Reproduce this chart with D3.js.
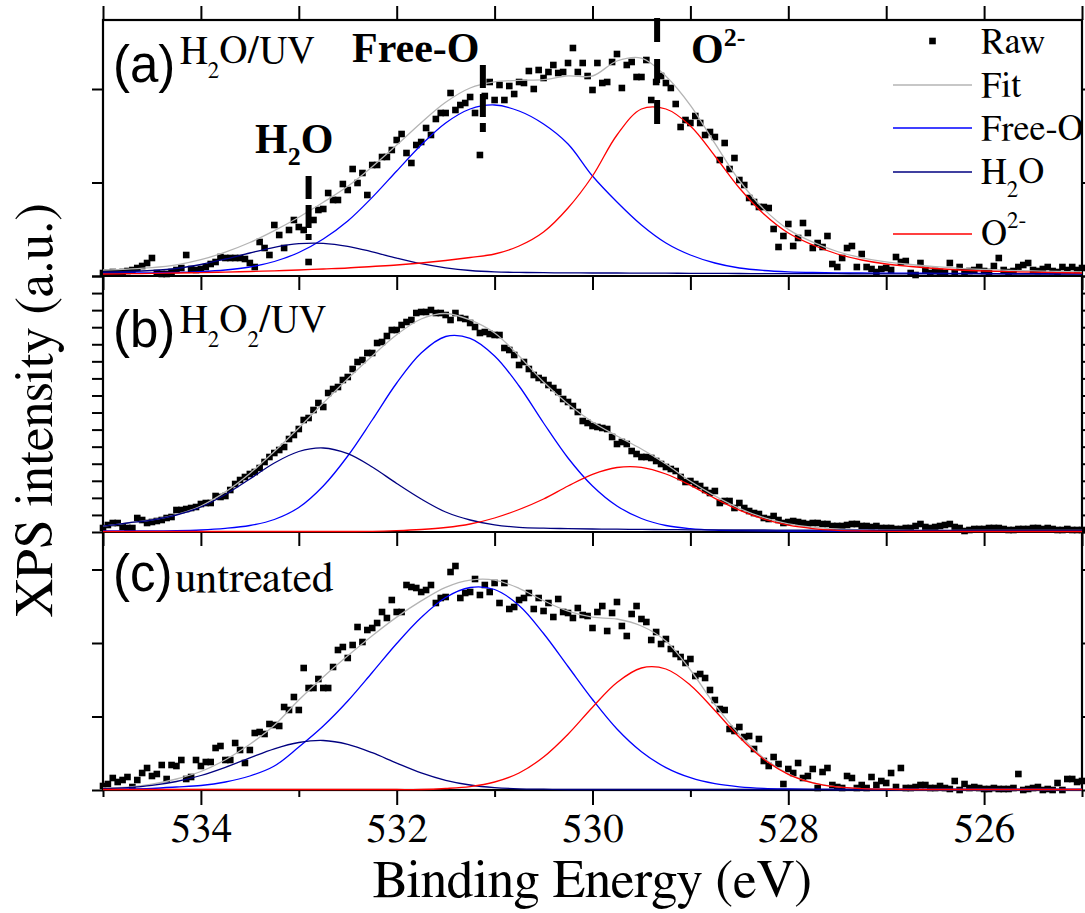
<!DOCTYPE html>
<html>
<head>
<meta charset="utf-8">
<script src="https://cdn.jsdelivr.net/npm/d3@7/dist/d3.min.js"></script>
<style>body { margin: 0; background: #fff; }</style>
</head>
<body>
<svg id="chart" width="1085" height="913"></svg>
<script>
// binding energy of every raw point (eV), same scan for the three samples
const rawEnergy = [
	535,534.95,534.9,534.85,534.8,534.75,534.7,534.65,534.6,534.55,
	534.5,534.45,534.4,534.35,534.3,534.25,534.2,534.15,534.1,534.05,
	534,533.95,533.9,533.85,533.8,533.75,533.7,533.65,533.6,533.55,
	533.5,533.45,533.4,533.35,533.3,533.25,533.2,533.15,533.1,533.05,
	533,532.95,532.9,532.85,532.8,532.75,532.7,532.65,532.6,532.55,
	532.5,532.45,532.4,532.35,532.3,532.25,532.2,532.15,532.1,532.05,
	532,531.95,531.9,531.85,531.8,531.75,531.7,531.65,531.6,531.55,
	531.5,531.45,531.4,531.35,531.3,531.25,531.2,531.15,531.1,531.05,
	531,530.95,530.9,530.85,530.8,530.75,530.7,530.65,530.6,530.55,
	530.5,530.45,530.4,530.35,530.3,530.25,530.2,530.15,530.1,530.05,
	530,529.95,529.9,529.85,529.8,529.75,529.7,529.65,529.6,529.55,
	529.5,529.45,529.4,529.35,529.3,529.25,529.2,529.15,529.1,529.05,
	529,528.95,528.9,528.85,528.8,528.75,528.7,528.65,528.6,528.55,
	528.5,528.45,528.4,528.35,528.3,528.25,528.2,528.15,528.1,528.05,
	528,527.95,527.9,527.85,527.8,527.75,527.7,527.65,527.6,527.55,
	527.5,527.45,527.4,527.35,527.3,527.25,527.2,527.15,527.1,527.05,
	527,526.95,526.9,526.85,526.8,526.75,526.7,526.65,526.6,526.55,
	526.5,526.45,526.4,526.35,526.3,526.25,526.2,526.15,526.1,526.05,
	526,525.95,525.9,525.85,525.8,525.75,525.7,525.65,525.6,525.55,
	525.5,525.45,525.4,525.35,525.3,525.25,525.2,525.15,525.1,525.05,
	525
]

// raw intensity (a.u.), (a) H2O/UV
const rawA = [
	3,3,4,3,4,5,6,8,10,13,18,
	3,2,2,4,6,8,21,7,6,7,
	9,12,14,19,18,18,18,18,17,13,
	9,34,28,21,51,41,28,46,56,49,
	46,14,56,66,67,83,76,76,92,86,
	107,93,103,81,111,111,119,119,126,136,
	142,123,113,131,134,148,141,157,163,163,
	183,166,171,173,179,163,121,180,194,176,
	191,176,190,182,194,193,205,187,206,198,
	204,211,203,204,213,228,204,213,200,186,
	213,193,194,214,222,188,211,214,199,199,
	216,176,194,200,193,188,172,149,156,153,
	160,153,141,144,139,116,133,107,118,96,
	91,78,74,69,69,68,47,29,40,52,
	30,38,53,43,28,33,29,40,12,9,
	18,28,30,9,22,9,7,4,7,8,
	6,19,14,15,3,1,13,6,3,5,
	4,3,13,3,9,4,5,6,9,5,
	4,10,18,6,4,5,9,11,13,6,
	5,7,9,5,4,9,6,9,6,8
]

// (b) H2O2/UV
const rawB = [
	4,7,9,9,5,4,4,14,12,9,10,
	11,12,14,15,22,22,23,24,25,28,
	29,29,36,35,36,42,48,52,55,58,
	60,64,70,75,79,82,85,93,97,103,
	112,114,122,129,125,139,143,145,152,155,
	163,170,172,179,179,189,190,196,202,202,
	207,210,212,219,220,220,222,219,219,217,
	212,219,214,213,209,205,199,200,198,197,
	197,184,182,177,167,170,163,157,154,152,
	147,144,140,133,130,126,120,111,109,106,
	105,104,103,95,88,90,88,81,78,75,
	75,74,71,68,65,63,61,55,50,51,
	48,46,42,39,41,29,31,31,24,29,
	24,21,19,18,14,13,16,12,9,10,
	11,10,9,8,9,9,8,8,6,6,
	6,7,8,8,6,6,5,6,4,4,
	4,3,3,4,4,6,8,5,4,5,
	6,7,8,5,4,1,2,3,3,3,
	4,4,4,3,2,2,3,3,3,4,
	4,3,4,3,2,2,3,2,2,2
]

// (c) untreated
const rawC = [
	4,6,12,8,10,13,3,10,17,22,14,
	16,25,11,25,24,30,11,13,30,24,
	28,28,42,44,30,30,47,40,27,40,
	57,58,56,66,65,64,83,80,93,80,
	122,102,102,111,102,102,123,140,143,132,
	145,163,148,160,162,167,178,172,190,178,
	178,205,203,202,198,200,205,187,192,193,
	218,224,192,197,198,211,195,205,198,207,
	187,207,181,183,190,192,197,181,192,179,
	187,173,191,178,177,172,182,175,174,162,
	178,184,159,177,188,164,154,176,184,171,
	168,150,158,146,151,141,136,133,127,131,
	114,116,112,100,90,81,80,61,59,63,
	53,54,41,51,29,24,33,26,6,21,
	17,27,12,14,21,2,18,22,5,3,
	2,14,12,2,5,2,13,5,9,7,
	17,3,22,2,2,3,5,5,2,2,
	4,2,1,9,0,6,2,3,2,1,
	1,2,1,1,1,2,16,0,1,2,
	3,0,1,0,7,0,11,11,8,9
]

// fitted curves, read every 0.25 eV
const curveEnergy = [
	535,534.75,534.5,534.25,534,533.75,533.5,533.25,533,532.75,
	532.5,532.25,532,531.75,531.5,531.25,531,530.75,530.5,530.25,
	530,529.75,529.5,529.25,529,528.75,528.5,528.25,528,527.75,
	527.5,527.25,527,526.75,526.5,526.25,526,525.75,525.5,525.25,
	525
]

const fitA = [
	6,6.9,8.3,11.1,16.3,23.9,33.5,45.4,58.8,73.7,
	89.7,109.3,130.9,153.3,173.7,188,194.1,195.6,196.3,200.1,
	200,215,217.9,199.8,170.7,132.6,95.5,66.9,46.6,33.8,
	24.5,18.2,14.1,11.5,9.3,7.7,6.6,5.7,5.1,4.6,
	4.2
]
const freeOA = [
	3,3.1,3.2,3.6,4.4,6,9,14.5,23.5,37,
	55,78.6,105,131,153,167,171,165,152,132,
	100,74,51,33,21,13,8,5.5,4.2,3.5,
	3.2,3,2.9,2.8,2.7,2.6,2.5,2.4,2.3,2.2,
	2.2
]
const h2oA = [
	4,4.5,5.5,7.5,11.5,17,23,28.7,32.3,32.7,
	29.7,24.2,17.9,12.3,8.2,5.5,4.1,3.6,3.3,3.1,
	3,3,2.9,2.8,2.7,2.6,2.5,2.4,2.4,2.3,
	2.3,2.2,2.2,2.2,2.1,2.1,2.1,2,2,2,
	2
]
const o2A = [
	2,2.3,2.6,3,3.4,3.9,4.5,5.2,6,7,
	8,9.5,11,13,15.5,18.5,22,30,44,68,
	100,141,167,167,150,120,88,62,43,31,
	22,16,12,9.5,7.5,6,5,4.3,3.8,3.4,
	3
]

const fitB = [
	5.8,9,12.1,17.3,26,40.1,58.5,80.5,104,129,
	153.3,176.1,197.3,213,218.5,212.1,199,176,150,128,
	110,96,83,68,50.7,36.1,23.6,14.4,8.2,4.8,
	3,2.3,1.9,1.7,1.6,1.6,1.6,1.5,1.5,1.5,
	1.5
]
const freeOB = [
	1,1,1.1,1.3,2,3.6,6.5,12.5,24.5,46,
	76,112,149,179,195.5,193.6,176,146,109,74,
	46,26,13.5,6.5,3.3,1.8,1.3,1.1,1,1,
	1,1,1,1,1,1,1,1,1,1,
	1
]
const h2oB = [
	5.8,9,12,17,25,37.5,53,69,80.5,84,
	78.3,65,48.5,33,20,12,7.1,4.7,3.8,3.4,
	3,2.8,2.6,2.4,2.2,2.1,2,2,1.9,1.9,
	1.8,1.8,1.7,1.7,1.6,1.6,1.6,1.5,1.5,1.5,
	1.5
]
const o2B = [
	0.5,0.5,0.5,0.5,0.5,0.5,0.5,0.5,0.5,0.5,
	0.5,0.6,1.3,2.5,4.5,8,14,22.5,33,46,
	57.7,64.5,64.7,58,46.7,33.7,21.8,12.8,6.8,3.4,
	1.7,1,0.7,0.5,0.5,0.5,0.5,0.5,0.5,0.5,
	0.5
]

const fitC = [
	2,2.9,5.8,11,18.5,30.2,45.7,64.7,90,113,
	134.2,154.3,172.9,189.1,202.7,209.9,209.9,201.7,189.3,178.8,
	172.8,171,164,149,120,85.3,55.5,31.9,16.2,7.4,
	3.1,1.4,0.8,0.5,0.5,0.5,0.5,0.5,0.5,0.5,
	0.5
]
const freeOC = [
	0.7,1,1.7,3,4.5,8,14,24,43,64,
	89,117.5,146.5,172.5,192.5,202.5,200.5,184.5,156.5,123.5,
	90.5,61,38.3,22.4,12.3,6.3,3.2,1.6,1,0.7,
	0.5,0.5,0.5,0.5,0.5,0.5,0.5,0.5,0.5,0.5,
	0.5
]
const h2oC = [
	1.3,2.4,4.6,8.5,14.5,22.7,32.2,41.2,47.5,49.5,
	45.7,37.3,26.9,17.1,9.7,5,2.4,1.2,0.8,0.5,
	0.5,0.5,0.5,0.5,0.5,0.5,0.5,0.5,0.5,0.5,
	0.5,0.5,0.5,0.5,0.5,0.5,0.5,0.5,0.5,0.5,
	0.5
]
const o2C = [
	0.5,0.5,0.5,0.5,0.5,0.5,0.5,0.5,0.5,0.5,
	0.5,0.5,0.5,0.5,1.5,3.4,8,17,33,55.8,
	82.8,107.5,122,121,104.8,79.5,52.8,30.8,15.7,7.2,
	3.1,1.4,0.8,0.5,0.5,0.5,0.5,0.5,0.5,0.5,
	0.5
]

// axis ticks
const energyMajor = [534, 532, 530, 528, 526]
const energyMinor = [535, 533, 531, 529, 527, 525]
const energyAll = [535, 534, 533, 532, 531, 530, 529, 528, 527, 526, 525]
const intensityMaxA = 256
const intensityMaxB = 256
const intensityMaxC = 258
const intensityTicksA = [0, 93.5, 187]
const intensityTicksB = [0, 17.07, 34.13, 51.2, 68.27, 85.33, 102.4, 119.47, 136.53, 153.6, 170.67, 187.73, 204.8, 221.87, 238.93, 256]
const intensityTicksC = [0, 73.5, 147, 220.5]

// peak position markers in (a): H2O, Free-O, O2-
const markEnergy = [532.9, 531.12, 529.34]
const markHigh = [100, 211, 258]
const markLow = [36, 144, 151]

// the regular Times clone drops out on this page, FreeSerif renders
const serifFace = "FreeSerif, \"Liberation Serif\", serif"
const boldFace = "\"Liberation Serif\", FreeSerif, serif"
const sansFace = "Arial, \"Liberation Sans\", sans-serif"
const plotLeft = 103
const plotRight = 1082
const svg = d3.select("#chart")
const x = d3.scaleLinear().domain([535, 525]).range([plotLeft, plotRight])

const panels = [
	{ top: 20, bottom: 276, max: intensityMaxA, ticks: intensityTicksA, raw: rawA, fit: fitA, freeO: freeOA, h2o: h2oA, o2: o2A },
	{ top: 276, bottom: 532, max: intensityMaxB, ticks: intensityTicksB, raw: rawB, fit: fitB, freeO: freeOB, h2o: h2oB, o2: o2B },
	{ top: 532, bottom: 790, max: intensityMaxC, ticks: intensityTicksC, raw: rawC, fit: fitC, freeO: freeOC, h2o: h2oC, o2: o2C }
]
panels.forEach(p => {
	p.y = d3.scaleLinear().domain([0, p.max]).range([p.bottom, p.top])
})

const colors = { fit: "#b4b4b4", freeO: "#0000ff", h2o: "#000080", o2: "#ff0000" }

function inkTicks(g) {
	g.select(".domain").remove()
	g.attr("font-family", serifFace).attr("font-size", null)
	g.selectAll("line").attr("stroke", "#000").attr("stroke-width", 2)
}

// frame
svg.append("rect")
	.attr("x", plotLeft).attr("y", 20)
	.attr("width", plotRight - plotLeft).attr("height", 770)
	.attr("fill", "none").attr("stroke", "#000").attr("stroke-width", 2.2)
const joins = [276, 532]
joins.forEach(yy => {
	svg.append("line")
		.attr("x1", plotLeft).attr("x2", plotRight).attr("y1", yy).attr("y2", yy)
		.attr("stroke", "#000").attr("stroke-width", 2.2)
	svg.append("g").attr("transform", `translate(0,${yy})`)
		.call(d3.axisBottom(x).tickValues(energyAll).tickSize(14).tickSizeOuter(0).tickFormat(""))
		.call(inkTicks)
})

svg.append("g").attr("transform", "translate(0,20)")
	.call(d3.axisTop(x).tickValues(energyAll).tickSize(14).tickSizeOuter(0).tickFormat(""))
	.call(inkTicks)

svg.append("g").attr("transform", "translate(0,790)")
	.call(d3.axisBottom(x).tickValues(energyMinor).tickSize(7).tickSizeOuter(0).tickFormat(""))
	.call(inkTicks)
svg.append("g").attr("transform", "translate(0,790)")
	.call(d3.axisBottom(x).tickValues(energyMajor).tickSize(15).tickSizeOuter(0).tickPadding(8).tickFormat(d3.format("d")))
	.call(inkTicks)
	.call(g => g.selectAll("text").attr("font-family", serifFace).attr("font-size", 41).attr("fill", "#000"))

panels.forEach(p => {
	svg.append("g").attr("transform", `translate(${plotLeft},0)`)
		.call(d3.axisLeft(p.y).tickValues(p.ticks).tickSize(11).tickSizeOuter(0).tickFormat(""))
		.call(inkTicks)
	svg.append("g").attr("transform", `translate(${plotRight},0)`)
		.call(d3.axisRight(p.y).tickValues(p.ticks).tickSize(11).tickSizeOuter(0).tickFormat(""))
		.call(inkTicks)
})

// raw points, then fit and components on top
panels.forEach(p => {
	svg.append("g")
		.selectAll("rect")
		.data(p.raw)
		.join("rect")
		.attr("x", (d, i) => x(rawEnergy[i]) - 3.3)
		.attr("y", d => p.y(d) - 3.3)
		.attr("width", 6.6)
		.attr("height", 6.6)
		.attr("fill", "#000")

	const line = d3.line()
		.x((d, i) => x(curveEnergy[i]))
		.y(d => p.y(d))
		.curve(d3.curveCatmullRom)
	const order = ["fit", "freeO", "h2o", "o2"]
	order.forEach(key => {
		svg.append("path")
			.attr("d", line(p[key]))
			.attr("fill", "none")
			.attr("stroke", colors[key])
			.attr("stroke-width", 1.3)
	})
})

// dashed peak markers
const pa = panels[0]
markEnergy.forEach((e, i) => {
	svg.append("line")
		.attr("x1", x(e)).attr("x2", x(e))
		.attr("y1", pa.y(markHigh[i])).attr("y2", pa.y(markLow[i]))
		.attr("stroke", "#000").attr("stroke-width", 6)
		.attr("stroke-dasharray", i === 2 ? "24,17" : "23,6")
})

// text helper: parts are [text, size, dy]
function label(xx, yy, size, parts, face, weight) {
	const t = svg.append("text").attr("x", xx).attr("y", yy)
		.attr("font-family", face || serifFace)
		.attr("font-size", size)
		.attr("fill", "#000")
	if (weight) t.attr("font-weight", weight)
	parts.forEach(part => {
		const s = t.append("tspan").text(part[0])
		if (part[1]) s.attr("font-size", part[1])
		if (part[2]) s.attr("dy", part[2])
	})
	return t
}

label(113, 82, 51, [["(a)"]], sansFace)
label(180, 63, 39, [["H"], ["2", 23, 15], ["O/UV", 39, -15]])
label(113, 347, 51, [["(b)"]], sansFace)
label(180, 332, 39, [["H"], ["2", 23, 15], ["O", 39, -15], ["2", 23, 15], ["/UV", 39, -15]])
label(113, 591, 51, [["(c)"]], sansFace)
label(175, 592, 43, [["untreated"]])

label(352, 62, 42, [["Free-O"]], boldFace, "bold")
label(255, 153, 42, [["H"], ["2", 26, 12], ["O", 42, -12]], boldFace, "bold")
label(691, 63, 42, [["O"], ["2-", 26, -17]], boldFace, "bold")

// legend
const legendX1 = 893
const legendX2 = 972
const legendText = 981
svg.append("rect").attr("x", (legendX1 + legendX2) / 2 - 3.3).attr("y", 41 - 3.3)
	.attr("width", 6.6).attr("height", 6.6).attr("fill", "#000")
label(legendText, 53, 36, [["Raw"]])
const legendRows = [
	{ key: "fit", y: 85, base: 97, parts: [["Fit"]] },
	{ key: "freeO", y: 128, base: 140, parts: [["Free-O"]] },
	{ key: "h2o", y: 172, base: 183, parts: [["H"], ["2", 23, 14], ["O", 36, -14]] },
	{ key: "o2", y: 234, base: 245, parts: [["O"], ["2-", 23, -17]] }
]
legendRows.forEach(r => {
	svg.append("line")
		.attr("x1", legendX1).attr("x2", legendX2).attr("y1", r.y).attr("y2", r.y)
		.attr("stroke", colors[r.key]).attr("stroke-width", 1.3)
	label(legendText, r.base, 36, r.parts)
})

// axis titles
label((plotLeft + plotRight) / 2, 897, 53.5, [["Binding Energy (eV)"]])
	.attr("text-anchor", "middle")
label(0, 0, 53.5, [["XPS intensity (a.u.)"]])
	.attr("x", null).attr("y", null)
	.attr("transform", "translate(52,410) rotate(-90)")
	.attr("text-anchor", "middle")
</script>
</body>
</html>
